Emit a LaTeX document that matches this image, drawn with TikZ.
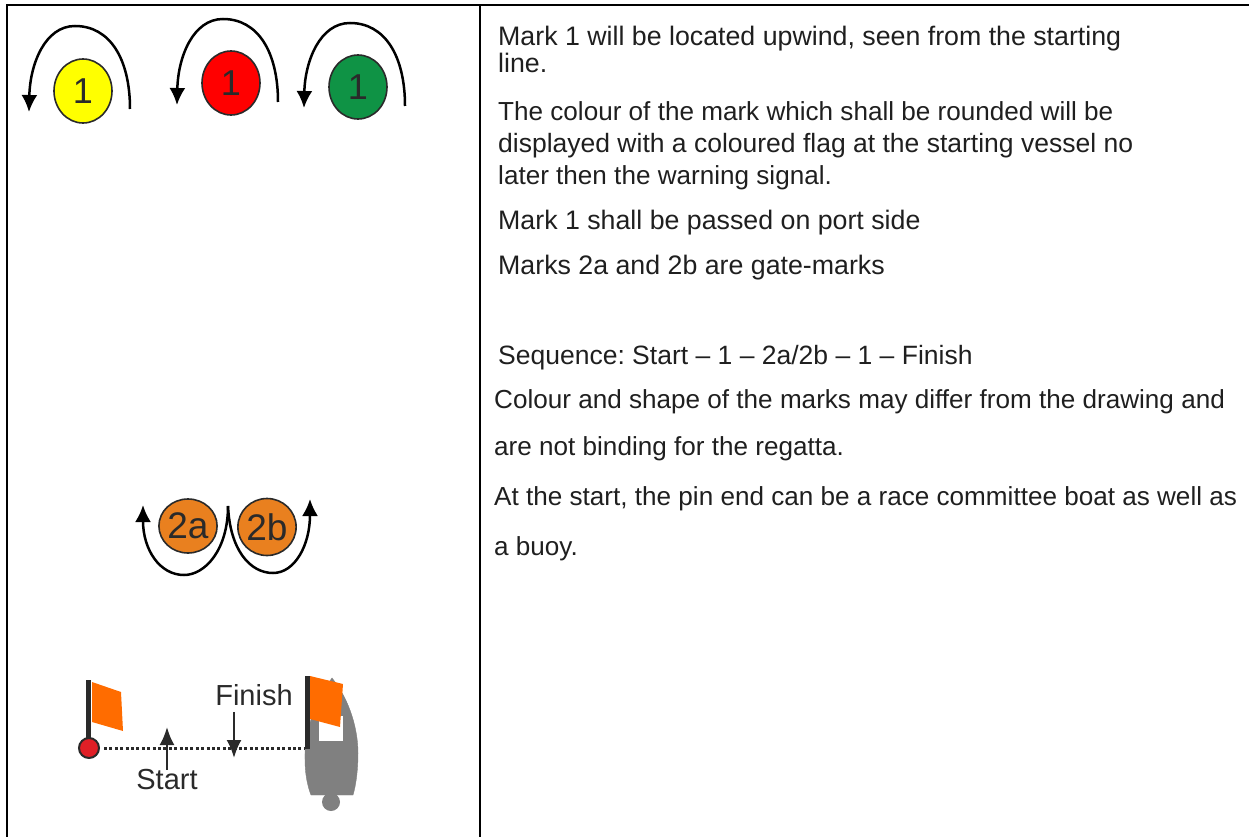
\documentclass[tikz,border=0pt]{standalone}
\usepackage{fontspec}
\setmainfont{Liberation Sans}
\usetikzlibrary{arrows.meta,shapes.geometric}
\frenchspacing
\definecolor{ink}{HTML}{2A2A2A}
\definecolor{markyellow}{HTML}{FFFF00}
\definecolor{markred}{HTML}{FF0000}
\definecolor{markgreen}{HTML}{0F9345}
\definecolor{markorange}{HTML}{E9801F}
\definecolor{flagorange}{HTML}{FF6C00}
\definecolor{dotred}{HTML}{E01F26}
\definecolor{boatgray}{HTML}{808080}
\tikzset{
  x=1pt,y=-1pt,
  frameline/.style={black,line width=2pt},
  buoy/.style={ellipse,draw=ink,line width=1.6pt,inner sep=0pt,text=ink},
  roundarrow/.style={black,line width=2.5pt,-{Latex[length=17pt,width=16pt,sep=-1pt]}},
  linearrow/.style={ink,line width=2.4pt,-{Latex[length=18pt,width=15pt]}},
  para/.style={anchor=base west,inner sep=0pt,text=black!88},
  lab/.style={inner sep=0pt,text=ink,font=\fontsize{29}{30}\selectfont},
}
\newcommand{\fsa}{\fontsize{26.75}{30}\selectfont}
\newcommand{\fsb}{\fontsize{26.1}{30}\selectfont}
\newcommand{\fsc}{\fontsize{26.5}{30}\selectfont}
\begin{document}
\begin{tikzpicture}
\useasboundingbox (0,0) rectangle (1249,837);
% frame
\coordinate (tl) at (7,5); \coordinate (tr) at (1249,5);
\coordinate (bl) at (7,837); \coordinate (dt) at (480,5); \coordinate (db) at (480,837);
\draw[frameline] (bl) -- (tl) -- (tr);
\draw[frameline] (dt) -- (db);
% marks 1
\node[buoy,fill=markyellow,minimum width=58pt,minimum height=64pt,font=\fontsize{36}{36}\selectfont] (m1y) at (83,91) {1};
\node[buoy,fill=markred,minimum width=58pt,minimum height=64pt,font=\fontsize{36}{36}\selectfont] (m1r) at (231,83) {1};
\node[buoy,fill=markgreen,minimum width=58pt,minimum height=64pt,font=\fontsize{36}{36}\selectfont] (m1g) at (358,87) {1};
\coordinate (ys) at (130,109); \coordinate (ye) at (29,111);
\coordinate (rs) at (278,102); \coordinate (re) at (177,104);
\coordinate (gs) at (405,106); \coordinate (ge) at (304,107);
\draw[roundarrow] (ys) .. controls ([yshift=50]ys) and ([xshift=-20,yshift=83]ys) .. ([xshift=-55,yshift=83]ys) .. controls ([xshift=-85,yshift=83]ys) and ([xshift=-100,yshift=45]ys) .. (ye);
\draw[roundarrow] (rs) .. controls ([yshift=50]rs) and ([xshift=-20,yshift=83]rs) .. ([xshift=-55,yshift=83]rs) .. controls ([xshift=-85,yshift=83]rs) and ([xshift=-100,yshift=45]rs) .. (re);
\draw[roundarrow] (gs) .. controls ([yshift=50]gs) and ([xshift=-20,yshift=83]gs) .. ([xshift=-55,yshift=83]gs) .. controls ([xshift=-85,yshift=83]gs) and ([xshift=-100,yshift=45]gs) .. (ge);
% gate marks
\node[buoy,fill=markorange,minimum width=54pt,minimum height=54pt,font=\fontsize{37}{38}\selectfont] (m2a) at (188,526) {2a};
\node[buoy,fill=markorange,minimum width=52pt,minimum height=57pt,font=\fontsize{37}{38}\selectfont] (m2b) at (267,527) {2b};
\coordinate (gatetop) at (228,506);
\coordinate (gl) at (143,506); \coordinate (gr) at (310,500);
\draw[roundarrow] (gatetop) .. controls (228,550) and (205,575) .. (184,575) .. controls (160,575) and (143,550) .. (gl);
\draw[roundarrow] (gatetop) .. controls (230,550) and (250,573) .. (273,573) .. controls (295,573) and (310,545) .. (gr);
% start and finish line
\coordinate (polelt) at (88,680); \coordinate (polelb) at (88,742);
\coordinate (polert) at (307,676); \coordinate (polerb) at (307,749);
\draw[boatgray,fill=boatgray] (305,760) .. controls (304,730) and (316,700) .. (332,678) .. controls (350,700) and (358,730) .. (358,753) .. controls (358,770) and (356,785) .. (353,795) -- (311,795) .. controls (307,785) and (305,772) .. (305,760) -- cycle;
\node[circle,fill=boatgray,minimum size=18pt,inner sep=0pt] (rudder) at (331,802) {};
\fill[white] (319,716) rectangle (343,741);
\draw[ink,line width=5pt] (polelt) -- (polelb);
\fill[flagorange] (92,682) -- (121,692) -- (123,731) -- (92,722) -- cycle;
\fill[flagorange] (310,676) -- (343,684) -- (340,727) -- (310,719) -- cycle;
\draw[ink,line width=5pt] (polert) -- (polerb);
\node[circle,draw=ink,fill=dotred,line width=2pt,minimum size=20pt,inner sep=0pt] (pin) at (89,748) {};
\coordinate (lineend) at (305,748);
\draw[ink,line width=3pt,dash pattern=on 3pt off 2.4pt] ([xshift=4pt]pin.east) -- (lineend);
\node[lab] (startlab) at (167,780) {Start};
\node[lab] (finishlab) at (254,695) {Finish};
\coordinate (starttip) at (167,727); \coordinate (finishtip) at (234,758);
\draw[linearrow] (startlab.north -| starttip) -- (starttip);
\draw[linearrow] ([yshift=-6]finishlab.south -| finishtip) -- (finishtip);
% text
\node[para,font=\fsa] (t1) at (498,46) {Mark 1 will be located upwind, seen from the starting};
\node[para,font=\fsa] (t2) at (498,73) {line.};
\node[para,font=\fsb] (t3) at (498,121) {The colour of the mark which shall be rounded will be};
\node[para,font=\fsc] (t4) at (498,153) {displayed with a coloured flag at the starting vessel no};
\node[para,font=\fsb] (t5) at (498,185) {later then the warning signal.};
\node[para,font=\fsa] (t6) at (498,229) {Mark 1 shall be passed on port side};
\node[para,font=\fsa] (t7) at (498,274) {Marks 2a and 2b are gate-marks};
\node[para,font=\fsc] (t8) at (498,364) {Sequence: Start – 1 – 2a/2b – 1 – Finish};
\node[para,font=\fsb] (t9) at (494,408) {Colour and shape of the marks may differ from the drawing and};
\node[para,font=\fsb] (t10) at (494,455) {are not binding for the regatta.};
\node[para,font=\fsb] (t11) at (494,505) {At the start, the pin end can be a race committee boat as well as};
\node[para,font=\fsb] (t12) at (494,555) {a buoy.};
\end{tikzpicture}
\end{document}
